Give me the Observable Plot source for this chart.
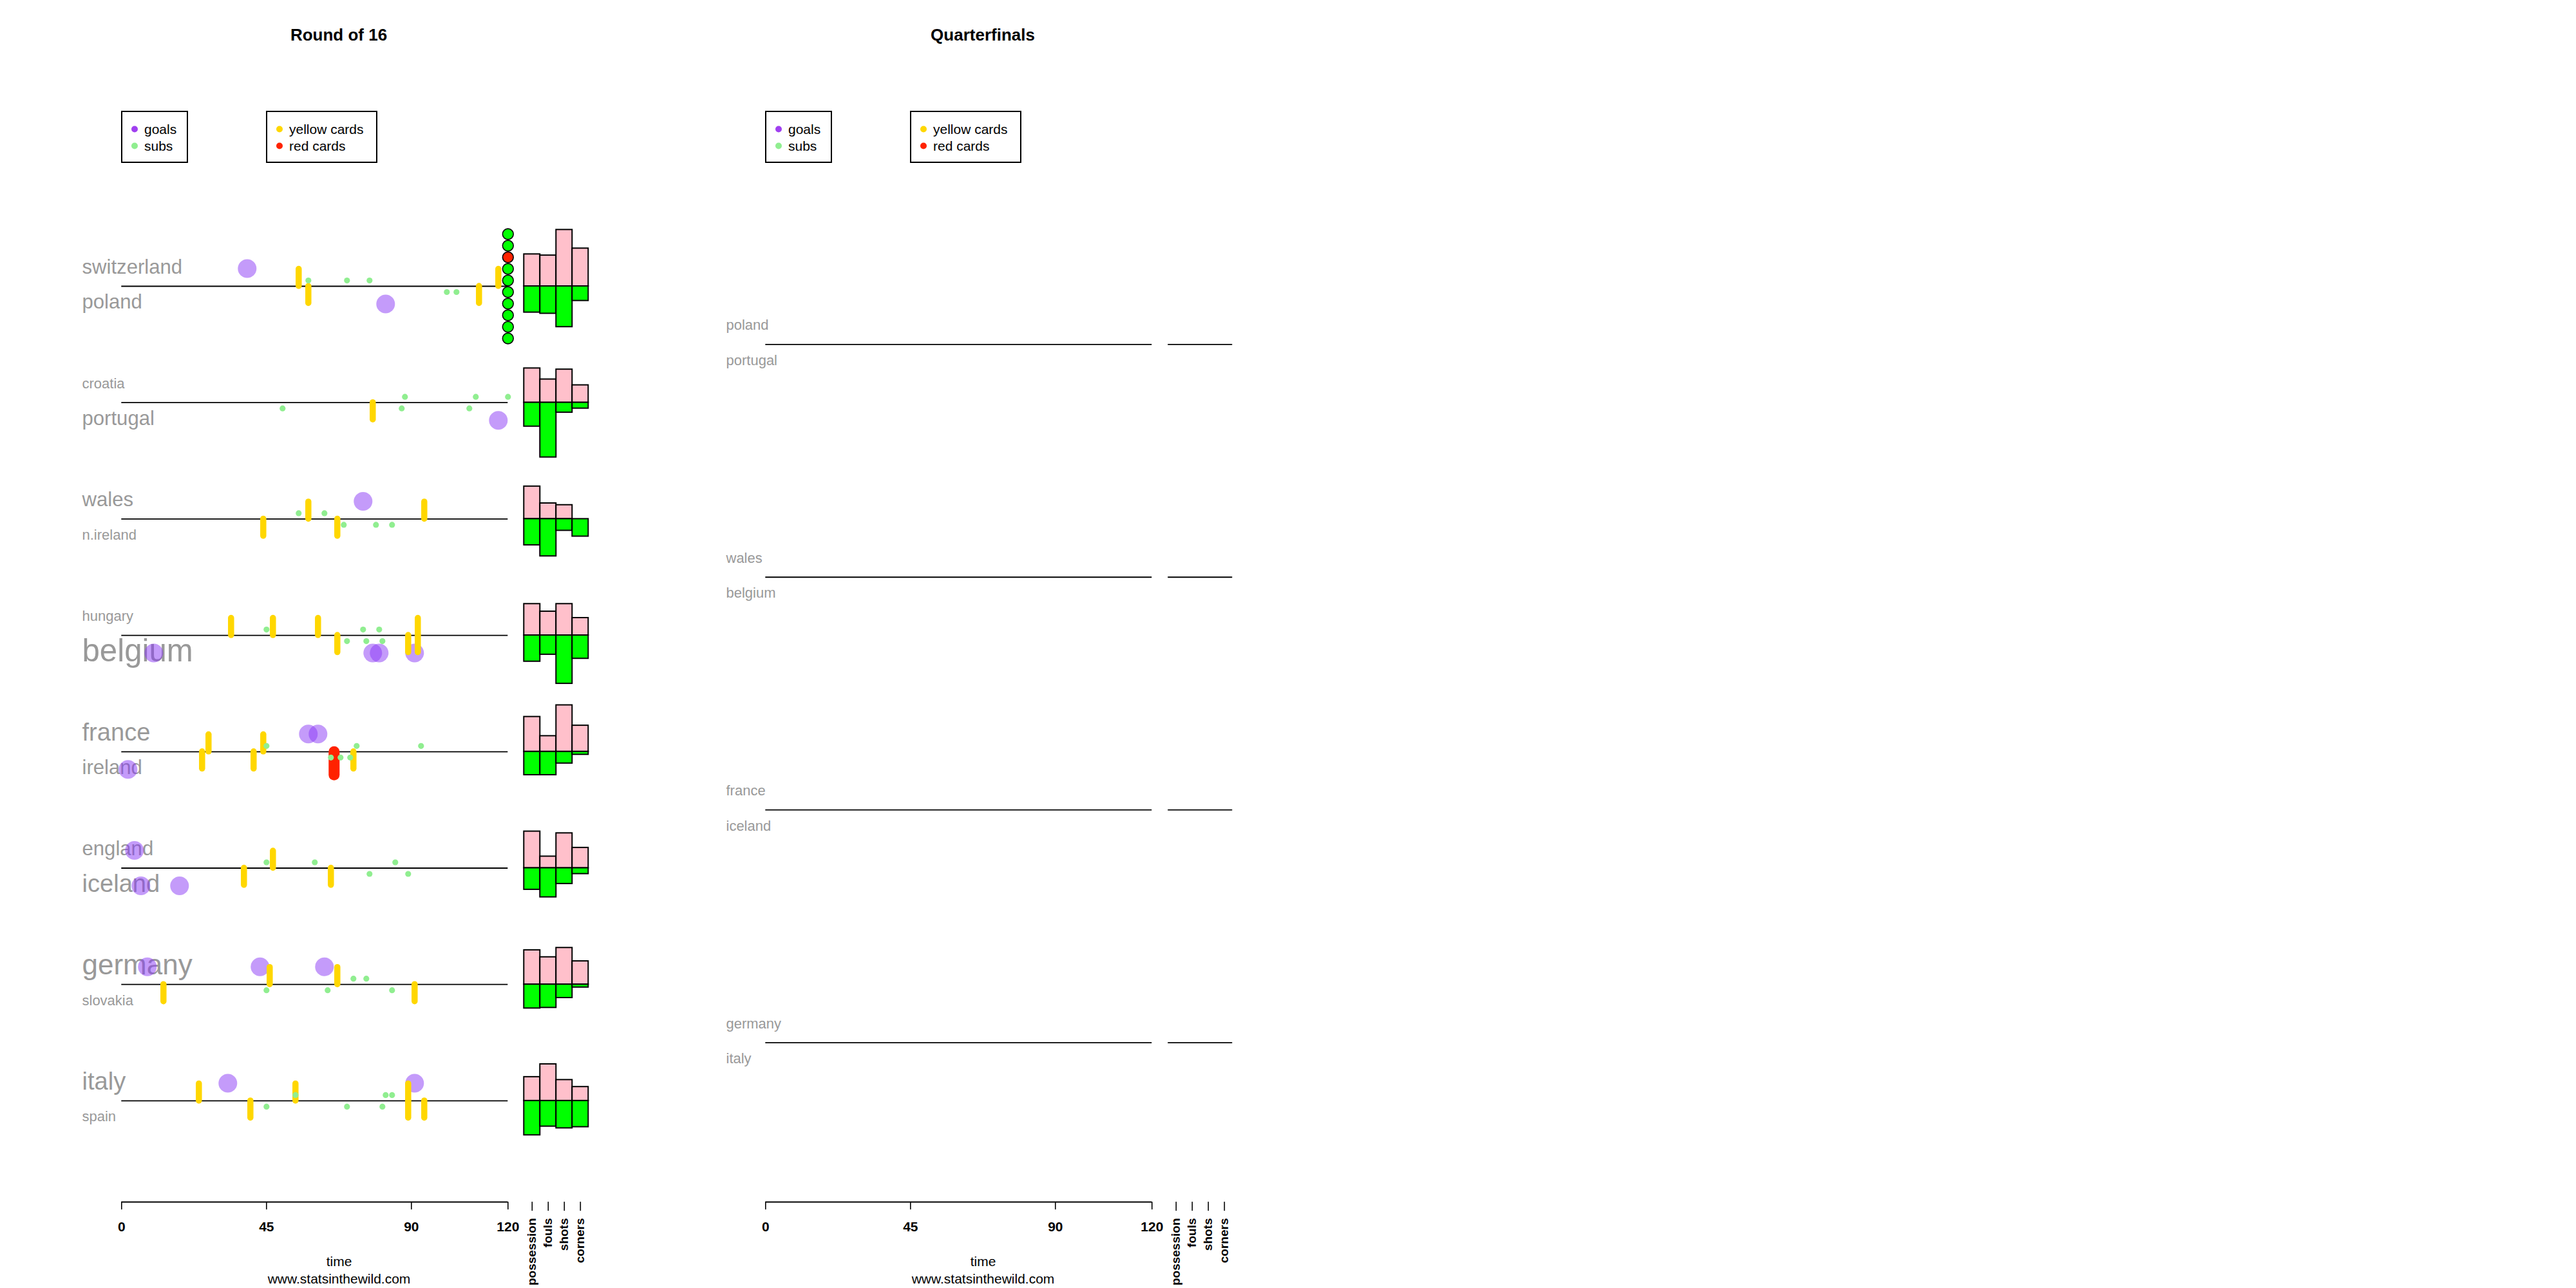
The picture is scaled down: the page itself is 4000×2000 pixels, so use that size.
<!DOCTYPE html>
<html><head><meta charset="utf-8">
<script src="https://cdn.jsdelivr.net/npm/d3@7"></script>
<script src="https://cdn.jsdelivr.net/npm/@observablehq/plot@0.6"></script>
<style>
html,body{margin:0;padding:0;width:4000px;height:2000px;overflow:hidden;background:#fff;font-family:"Liberation Sans",Arial,sans-serif;}
#stage{position:absolute;left:0;top:0;display:flex;}
.panel{position:relative;flex:none;width:1000px;}
.head{position:relative;height:270px;}
.title{position:absolute;font-weight:bold;font-size:26px;line-height:1;white-space:nowrap;transform:translate(-50%,-50%);}
.legend{position:absolute;border:2px solid #000;box-sizing:border-box;background:#fff;}
.row{position:absolute;display:flex;align-items:center;font-size:21px;line-height:1;white-space:nowrap;transform:translateY(-50%);}
.sw{width:10px;height:10px;border-radius:50%;display:inline-block;flex:none;}
</style></head>
<body><div id="stage"></div>
<script>
// ---------- data ----------
const statNames = ["possession", "fouls", "shots", "corners"];

// Round of 16 (top team / bottom team of each match)
const r16Top = ["switzerland", "croatia", "wales", "hungary", "france", "england", "germany", "italy"];
const r16Bottom = ["poland", "portugal", "n.ireland", "belgium", "ireland", "iceland", "slovakia", "spain"];
const r16GoalsTop = [[39], [], [75], [], [58, 61], [4], [8, 43, 63], [33, 91]];
const r16GoalsBottom = [[82], [117], [], [10, 78, 80, 91], [2], [6, 18], [], []];
const r16SubsTop = [[58, 70, 77], [88, 110, 120], [55, 63], [45, 75, 80], [45, 73, 93], [45, 60, 85], [72, 76], [54, 82, 84]];
const r16SubsBottom = [[101, 104], [50, 87, 108], [69, 79, 84], [70, 76, 81], [65, 68, 71], [77, 89], [45, 64, 84], [45, 70, 81]];
const r16YellowTop = [[55, 117], [], [58, 94], [34, 47, 61, 92], [27, 44], [47], [46, 67], [24, 54, 89]];
const r16YellowBottom = [[58, 111], [78], [44, 67], [67, 89, 92], [25, 41, 72], [38, 65], [13, 91], [40, 89, 94]];
const r16RedTop = [[], [], [], [], [], [], [], []];
const r16RedBottom = [[], [], [], [], [66], [], [], []];
const r16ShootoutTop = [[1, 1, 0, 1, 1], [], [], [], [], [], [], []];
const r16ShootoutBottom = [[1, 1, 1, 1, 1], [], [], [], [], [], [], []];
// stats: possession, fouls, shots, corners (scaled values)
const r16StatsTop = [[55, 53, 97, 65], [59, 40, 57, 30], [56, 27, 24, 0], [54, 41, 54, 30], [60, 27, 80, 45], [63, 20, 60, 35], [59, 47, 63, 40], [41, 63, 36, 24]];
const r16StatsBottom = [[45, 47, 70, 25], [41, 94, 17, 10], [45, 64, 20, 30], [45, 33, 83, 40], [40, 40, 20, 5], [37, 50, 27, 10], [41, 40, 23, 5], [59, 44, 47, 45]];

// Quarterfinals (not yet played)
const qfTop = ["poland", "wales", "france", "germany"];
const qfBottom = ["portugal", "belgium", "iceland", "italy"];
const qfNone = [[], [], [], []];
const qfStatsTop = [[0, 0, 0, 0], [0, 0, 0, 0], [0, 0, 0, 0], [0, 0, 0, 0]];
const qfStatsBottom = [[0, 0, 0, 0], [0, 0, 0, 0], [0, 0, 0, 0], [0, 0, 0, 0]];

const legendGroups = [
  [{label: "goals", color: "#a040f0"}, {label: "subs", color: "#90ee90"}],
  [{label: "yellow cards", color: "#ffd700"}, {label: "red cards", color: "#ff2200"}]
];

// ---------- layout ----------
const ROW = 200;              // stat units between match rows
const PXSU = 180.7 / ROW;     // pixels per stat unit
const P = px => px / PXSU;
const yTop = P(270 - 444), yBot = P(1866 - 444);
const X0 = 188.3, X145 = 913.3;

const rounds = [
  {title: "Round of 16", top: r16Top, bottom: r16Bottom, rows: r16Top.map((_, i) => i),
   goals: [r16GoalsTop, r16GoalsBottom], subs: [r16SubsTop, r16SubsBottom],
   yellow: [r16YellowTop, r16YellowBottom], red: [r16RedTop, r16RedBottom],
   shoot: [r16ShootoutTop, r16ShootoutBottom], stats: [r16StatsTop, r16StatsBottom]},
  {title: "Quarterfinals", top: qfTop, bottom: qfBottom, rows: qfTop.map((_, j) => (2 * j + 2 * j + 1) / 2),
   goals: [qfNone, qfNone], subs: [qfNone, qfNone], yellow: [qfNone, qfNone], red: [qfNone, qfNone],
   shoot: [qfNone, qfNone], stats: [qfStatsTop, qfStatsBottom]}
];

const stage = document.getElementById("stage");

function flat(arrs, rows) {
  const out = [];
  arrs.forEach((arr, s) => arr.forEach((list, i) => list.forEach((t, k) => out.push({t, k, base: rows[i] * ROW, sign: s === 0 ? -1 : 1}))));
  return out;
}

for (const R of rounds) {
  const panel = document.createElement("div");
  panel.className = "panel";
  const head = document.createElement("div");
  head.className = "head";
  const title = document.createElement("div");
  title.className = "title";
  title.textContent = R.title;
  title.style.left = "526px";
  title.style.top = "54px";
  head.appendChild(title);
  const boxes = [{left: 188, width: 104}, {left: 413, width: 173}];
  legendGroups.forEach((items, b) => {
    const box = document.createElement("div");
    box.className = "legend";
    box.style.left = boxes[b].left + "px";
    box.style.top = "172px";
    box.style.width = boxes[b].width + "px";
    box.style.height = "81px";
    items.forEach((it, i) => {
      const row = document.createElement("div");
      row.className = "row";
      row.style.left = (21 - 5 - 2) + "px";
      row.style.top = (28 + 26 * i - 2) + "px";
      const sw = document.createElement("span");
      sw.className = "sw";
      sw.style.background = it.color;
      sw.style.marginRight = "10px";
      const tx = document.createElement("span");
      tx.textContent = it.label;
      row.appendChild(sw); row.appendChild(tx);
      box.appendChild(row);
    });
    head.appendChild(box);
  });
  panel.appendChild(head);

  const matches = R.rows.map((r, i) => ({i, base: r * ROW}));
  const goals = flat(R.goals, R.rows);
  const subs = flat(R.subs, R.rows);
  const yellows = flat(R.yellow, R.rows);
  const reds = flat(R.red, R.rows);
  const kicks = [];
  R.shoot.forEach((arr, s) => arr.forEach((list, i) => list.forEach((sc, k) => kicks.push({k, scored: sc, base: R.rows[i] * ROW, sign: s === 0 ? -1 : 1}))));
  const bars = [];
  R.stats.forEach((arr, s) => arr.forEach((vals, i) => vals.forEach((v, k) => bars.push({k, v, s, base: R.rows[i] * ROW}))));
  const labels = [];
  [R.top, R.bottom].forEach((names, s) => names.forEach((name, i) => labels.push({
    name, base: R.rows[i] * ROW, sign: s === 0 ? -1 : 1, g: R.goals[s][i].length
  })));

  const svg = Plot.plot({
    width: 1000, height: 1730,
    marginLeft: X0, marginRight: 1000 - X145, marginTop: 0, marginBottom: 134,
    x: {domain: [0, 145]},
    y: {domain: [yTop, yBot], reverse: true, axis: null},
    style: "max-width:none;overflow:visible;background:transparent;font-family:'Liberation Sans',Arial,sans-serif;",
    marks: [
      Plot.ruleY(matches, {y: "base", x1: 0, x2: 120, stroke: "#000", strokeWidth: 1.8}),
      Plot.ruleY(matches, {y: "base", x1: 125, x2: 145, stroke: "#000", strokeWidth: 1.8}),
      Plot.rect(bars.filter(d => d.s === 0 && d.v > 0), {
        x1: d => 125 + 5 * d.k, x2: d => 130 + 5 * d.k, y1: d => d.base - d.v, y2: "base",
        fill: "#ffc0cb", stroke: "#000", strokeWidth: 2
      }),
      Plot.rect(bars.filter(d => d.s === 1 && d.v > 0), {
        x1: d => 125 + 5 * d.k, x2: d => 130 + 5 * d.k, y1: "base", y2: d => d.base + d.v,
        fill: "#00ff00", stroke: "#000", strokeWidth: 2
      }),
      Plot.text(labels, {
        frameAnchor: "left", dx: 127 - X0, y: d => d.base + (d.sign < 0 ? -P(29.5) : P(25)),
        text: "name", fontSize: d => 22 * Math.sqrt(1 + d.g), fill: "#999999", textAnchor: "start", lineAnchor: "middle"
      }),
      Plot.dot(goals, {x: "t", y: d => d.base + d.sign * P(27.5), r: 14.5, fill: "#8a38f6", fillOpacity: 0.5}),
      Plot.ruleX(yellows, {x: "t", y1: "base", y2: d => d.base + d.sign * P(26.5), stroke: "#ffd700", strokeWidth: 9.5, strokeLinecap: "round"}),
      Plot.ruleX(reds, {x: "t", y1: d => d.base + d.sign * P(0.5), y2: d => d.base + d.sign * P(36.5), stroke: "#ff2200", strokeWidth: 17, strokeLinecap: "round"}),
      Plot.dot(subs, {x: "t", y: d => d.base + d.sign * P(9), r: 4.6, fill: "#90ee90"}),
      Plot.dot(kicks, {x: () => 120, y: d => d.base + d.sign * P(9 + 18 * d.k), r: 8.4,
        fill: d => d.scored ? "#00ff00" : "#ff2200", stroke: "#000", strokeWidth: 1.6}),
      Plot.ruleY([yBot], {x1: 0, x2: 120, stroke: "#000", strokeWidth: 2.2}),
      Plot.axisX({ticks: [0, 45, 90, 120], tickSize: 12, tickPadding: 19, fontSize: 21, fontWeight: "bold", label: null, strokeWidth: 1.6}),
      Plot.axisX({ticks: statNames.map((_, k) => 127.5 + 5 * k), tickFormat: d => statNames[Math.round((d - 127.5) / 5)],
        tickRotate: -90, tickSize: 14, tickPadding: 11, fontSize: 19, fontWeight: "bold", label: null, strokeWidth: 1.6}),
      Plot.text(["time"], {frameAnchor: "bottom", text: d => d, dx: 526 - (X0 + X145) / 2, dy: 93, fontSize: 21, lineAnchor: "middle"}),
      Plot.text(["www.statsinthewild.com"], {frameAnchor: "bottom", text: d => d, dx: 526 - (X0 + X145) / 2, dy: 120, fontSize: 21, lineAnchor: "middle"})
    ]
  });
  panel.appendChild(svg);
  stage.appendChild(panel);
}
</script></body></html>
